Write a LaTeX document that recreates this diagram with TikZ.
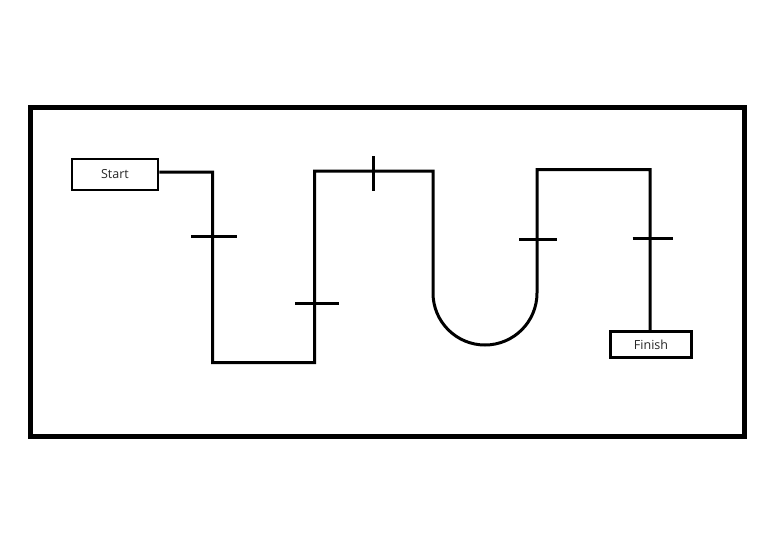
\documentclass[tikz,border=0pt]{standalone}
\usepackage{fontspec}
\setmainfont{Open Sans}
\begin{document}
\begin{tikzpicture}[x=1pt,y=-1pt,
  wire/.style={line width=3pt,line join=miter},
  tick/.style={line width=3pt},
  label box/.style={draw,line width=2.6pt,inner sep=0pt,font=\fontsize{12.5}{14}\selectfont,text=black!85}]
\useasboundingbox (0,0) rectangle (759,546);
\draw[line width=5pt] (30.5,107) rectangle (744,436);
\node[label box,minimum width=86pt,minimum height=31pt] (start) at (115,174.5) {Start};
\node[label box,minimum width=81pt,minimum height=26.5pt] (finish) at (651,344.5) {Finish};
\coordinate (a) at (212.5,172);
\coordinate (b) at (212.5,362.5);
\coordinate (c) at (314.5,362.5);
\coordinate (d) at (314.5,171);
\coordinate (e) at (433,171);
\coordinate (f) at (433,293);
\coordinate (g) at (537,293);
\coordinate (h) at (537,169.5);
\coordinate (i) at (650,169.5);
\draw[wire] (start.east |- a) -- (a) -- (b) -- (c) -- (d) -- (e) -- (f)
  arc[start angle=180,end angle=0,radius=52] -- (h) -- (i) -- (finish.north -| i);
\draw[tick] (191,236.5) -- (236.5,236.5);
\draw[tick] (295,303.5) -- (338.5,303.5);
\draw[tick] (373.5,156) -- (373.5,191);
\draw[tick] (519,239) -- (556.5,239);
\draw[tick] (632.5,238) -- (672.5,238);
\end{tikzpicture}
\end{document}
